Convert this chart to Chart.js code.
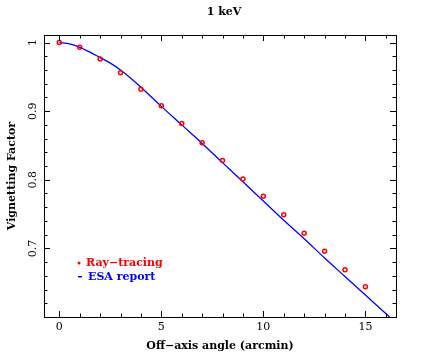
<!DOCTYPE html>
<html>
<head>
<meta charset="utf-8">
<script src="https://cdn.jsdelivr.net/npm/chart.js@4"></script>
<style>
  html, body { margin: 0; padding: 0; background: #fff; }
  #wrap { width: 441px; height: 354px; }
</style>
</head>
<body>
<div id="wrap"><canvas id="vigChart" width="441" height="354"></canvas></div>
<script>
// Data
const angles = [0, 1, 2, 3, 4, 5, 6, 7, 8, 9, 10, 11, 12, 13, 14, 15];
const rayTracing = [1.0, 0.993, 0.976, 0.956, 0.932, 0.908, 0.882, 0.854, 0.828, 0.801, 0.776, 0.749, 0.722, 0.696, 0.669, 0.644];
const esaAngles = [0, 0.5, 1, 1.5, 2, 2.5, 3, 3.5, 4, 4.5, 5, 6, 7, 8, 9, 10, 11, 12, 13, 14, 15, 16, 16.5];
const esaReport = [1.0, 0.998, 0.993, 0.986, 0.978, 0.970, 0.960, 0.948, 0.935, 0.921, 0.907, 0.880, 0.853, 0.825, 0.797, 0.769, 0.741, 0.714, 0.686, 0.659, 0.632, 0.605, 0.591];
const yTickLabels = ['0.7', '0.8', '0.9', '1'];
const xTickLabels = ['0', '5', '10', '15'];

const FONT = '"DejaVu Serif", "Liberation Serif", serif';

// frame, inward ticks, rotated y labels, title and legend
const framePlugin = {
    id: 'frame',
    afterDraw(chart) {
        const ctx = chart.ctx;
        const a = chart.chartArea;
        const xs = chart.scales.x;
        const ys = chart.scales.y;
        ctx.save();
        ctx.strokeStyle = '#000';
        ctx.lineWidth = 1;
        ctx.strokeRect(a.left + 0.5, a.top + 0.5, a.right - a.left, a.bottom - a.top);
        ctx.beginPath();
        for (let v = 0; v <= 16; v++) {
            const px = Math.round(xs.getPixelForValue(v)) + 0.5;
            const len = (v % 5 === 0) ? 6 : 3.5;
            ctx.moveTo(px, a.bottom); ctx.lineTo(px, a.bottom - len);
            ctx.moveTo(px, a.top); ctx.lineTo(px, a.top + len);
        }
        for (let i = 0; i <= 20; i++) {
            const v = 0.62 + i * 0.02;
            if (v > ys.max) break;
            const py = Math.round(ys.getPixelForValue(v)) + 0.5;
            const major = Math.abs(v * 10 - Math.round(v * 10)) < 1e-6;
            const len = major ? 6 : 3.5;
            ctx.moveTo(a.left, py); ctx.lineTo(a.left + len, py);
            ctx.moveTo(a.right, py); ctx.lineTo(a.right - len, py);
        }
        ctx.stroke();

        // rotated y tick labels
        ctx.fillStyle = '#000';
        ctx.font = '11px ' + FONT;
        ctx.textAlign = 'center';
        ctx.textBaseline = 'middle';
        yTickLabels.forEach(function (t) {
            const py = ys.getPixelForValue(parseFloat(t));
            ctx.save();
            ctx.translate(33, py);
            ctx.rotate(-Math.PI / 2);
            ctx.fillText(t, 0, 0);
            ctx.restore();
        });

        // title
        ctx.font = 'bold 11px ' + FONT;
        ctx.fillText('1 keV', 224, 12);

        // legend
        ctx.textAlign = 'left';
        ctx.font = 'bold 11px ' + FONT;
        ctx.fillStyle = 'rgb(255,0,0)';
        ctx.beginPath();
        ctx.arc(79, 263, 1.5, 0, Math.PI * 2);
        ctx.fill();
        ctx.fillText('Ray\u2212tracing', 86, 263);
        ctx.fillStyle = 'rgb(0,0,255)';
        ctx.fillRect(78, 276, 4, 1.5);
        ctx.fillText('ESA report', 88, 277);
        ctx.restore();
    }
};

new Chart(document.getElementById('vigChart').getContext('2d'), {
    type: 'scatter',
    data: {
        datasets: [{
            label: 'ESA report',
            data: esaAngles.map((x, i) => ({x: x, y: esaReport[i]})),
            showLine: true,
            borderColor: 'rgb(0,0,255)',
            borderWidth: 1.3,
            pointRadius: 0,
            cubicInterpolationMode: 'monotone',
            order: 2
        }, {
            label: 'Ray-tracing',
            data: angles.map((x, i) => ({x: x, y: rayTracing[i]})),
            borderColor: 'rgb(255,0,0)',
            backgroundColor: 'rgba(255,255,255,0)',
            borderWidth: 1.5,
            pointRadius: 2,
            order: 1
        }]
    },
    options: {
        responsive: false,
        animation: false,
        layout: { padding: { left: 0, right: 45, top: 35, bottom: 0 } },
        plugins: {
            legend: { display: false },
            tooltip: { enabled: false }
        },
        scales: {
            x: {
                type: 'linear',
                min: -0.75,
                max: 16.5,
                afterFit(scale) { scale.height = 37; },
                afterBuildTicks(scale) {
                    scale.ticks = xTickLabels.map(t => ({ value: parseFloat(t) }));
                },
                grid: { display: false, drawTicks: false },
                border: { display: false },
                ticks: {
                    autoSkip: false,
                    maxRotation: 0,
                    padding: 4,
                    color: '#000',
                    font: { family: FONT, size: 11 },
                    callback: (v) => String(v)
                },
                title: {
                    display: true,
                    text: 'Off\u2212axis angle (arcmin)',
                    color: '#000',
                    font: { family: FONT, size: 11, weight: 'bold' },
                    padding: { top: 0, bottom: 1 }
                }
            },
            y: {
                type: 'linear',
                min: 0.6,
                max: 1.011,
                afterFit(scale) { scale.width = 44; },
                grid: { display: false, drawTicks: false },
                border: { display: false },
                ticks: { display: false },
                title: {
                    display: true,
                    text: 'Vignetting Factor',
                    color: '#000',
                    font: { family: FONT, size: 11, weight: 'bold' },
                    padding: { top: 6, bottom: 0 }
                }
            }
        }
    },
    plugins: [framePlugin]
});
</script>
</body>
</html>
